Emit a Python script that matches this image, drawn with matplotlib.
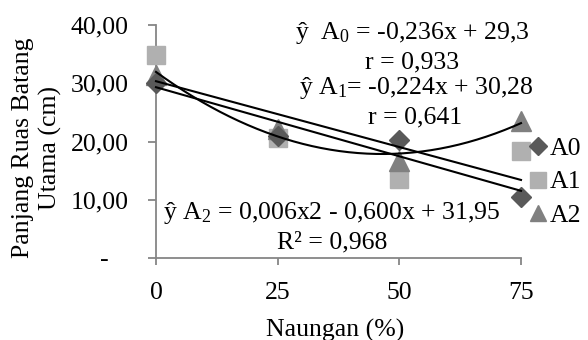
import numpy as np
import matplotlib
matplotlib.use("Agg")
import matplotlib.pyplot as plt
from matplotlib.lines import Line2D

plt.rcParams['font.family'] = ['Liberation Serif', 'DejaVu Serif']
plt.rcParams['mathtext.fontset'] = 'custom'
plt.rcParams['mathtext.rm'] = 'Liberation Serif'
plt.rcParams['mathtext.it'] = 'Liberation Serif:italic'

# ---- data ----
naungan = [0, 25, 50, 75]
A0 = [30.0, 21.0, 20.2, 10.5]
A1 = [34.9, 20.6, 13.6, 18.4]
A2 = [31.5, 22.2, 16.6, 23.6]
series_labels = ["A0", "A1", "A2"]
ytick_vals = [0, 10, 20, 30, 40]
ytick_labels = ["-   ", "10,00", "20,00", "30,00", "40,00"]
xtick_vals = [0, 25, 50, 75]
eq_A0 = r"ŷ  $\mathrm{A}_0$ = -0,236x + 29,3"
r_A0 = "r = 0,933"
eq_A1 = r"ŷ $\mathrm{A}_1$= -0,224x + 30,28"
r_A1 = "r = 0,641"
eq_A2 = r"ŷ $\mathrm{A}_2$ = 0,006x2 - 0,600x + 31,95"
r_A2 = "R² = 0,968"

FS = 18.5
W, H = 588, 340
fig = plt.figure(figsize=(W / 100, H / 100), dpi=100)
ax = fig.add_axes([156 / W, 1 - 258 / H, (521 - 156) / W, (258 - 25) / H])

c0, c1, c2 = "#595959", "#b0b0b0", "#808080"
x = np.array(naungan, dtype=float)
ax.plot(x, A1, ls="none", marker="s", ms=13.5, color=c1, zorder=3, clip_on=False)
ax.plot(x, A2, ls="none", marker="^", ms=14, color=c2, zorder=4, clip_on=False)
ax.plot(x, A0, ls="none", marker="D", ms=10, color=c0, zorder=5, clip_on=False)

xx = np.linspace(0, 75, 200)
p0 = np.polyfit(x, A0, 1)
p1 = np.polyfit(x, A1, 1)
p2 = np.polyfit(x, A2, 2)
for p in (p0, p1, p2):
    ax.plot(xx, np.polyval(p, xx), color="black", lw=1.5, zorder=6, clip_on=False)

ax.set_xlim(0, 75)
ax.set_ylim(0, 40)
ax.set_xticks(xtick_vals)
ax.set_xticklabels([str(v) for v in xtick_vals])
ax.set_yticks(ytick_vals)
ax.set_yticklabels(ytick_labels)
for s in ("top", "right"):
    ax.spines[s].set_visible(False)
for s in ("left", "bottom"):
    ax.spines[s].set_color("#868686")
    ax.spines[s].set_linewidth(1.3)
ax.tick_params(axis="y", direction="out", length=5.8, width=1.3, color="#868686",
               pad=14, labelsize=FS)
ax.tick_params(axis="x", direction="out", length=5, width=1.3, color="#868686",
               pad=12, labelsize=FS)
ax.set_facecolor("none")

def ftext(px, py, s, **kw):
    fig.text(px / W, 1 - py / H, s, ha="center", va="center", fontsize=FS, **kw)

ftext(412, 33, eq_A0)
ftext(412, 62, r_A0)
ftext(416, 88, eq_A1)
ftext(415, 117, r_A1)
ftext(332, 213, eq_A2)
ftext(332, 242, r_A2)

fig.text(37 / W, 1 - 148 / H, "Panjang Ruas Batang\nUtama (cm)", rotation=90,
         ha="center", va="center", fontsize=FS, linespacing=1.25, multialignment="center")
ftext(335, 330, "Naungan (%)")

handles = [Line2D([], [], ls="none", marker="D", ms=9, color=c0),
           Line2D([], [], ls="none", marker="s", ms=11.5, color=c1),
           Line2D([], [], ls="none", marker="^", ms=11.5, color=c2)]
ax.legend(handles, series_labels, loc="center left", bbox_to_anchor=(530 / W, 1 - 182 / H),
          bbox_transform=fig.transFigure, frameon=False, fontsize=FS,
          handlelength=0.6, handletextpad=0.15, labelspacing=0.42, borderpad=0,
          borderaxespad=0)

fig.savefig("out.png", dpi=100)
